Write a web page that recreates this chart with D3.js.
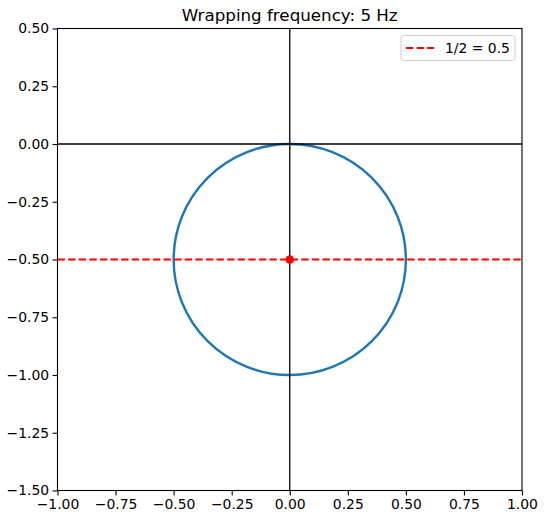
<!DOCTYPE html>
<html><head><meta charset="utf-8">
<script src="https://cdn.jsdelivr.net/npm/d3@7"></script>
<style>body{margin:0;background:#fff}svg{display:block}text{font-family:"DejaVu Sans",sans-serif}</style>
</head><body><svg id="c" width="544" height="522"></svg>
<script>
const titleText = "Wrapping frequency: 5 Hz";
const xTicks = [-1.00,-0.75,-0.50,-0.25,0.00,0.25,0.50,0.75,1.00];
const yTicks = [0.50,0.25,0.00,-0.25,-0.50,-0.75,-1.00,-1.25,-1.50];
const xDomain = [-1, 1];
const yDomain = [-1.5, 0.5];
const wrapCenter = [0, -0.5];
const wrapRadius = 0.5;
const halfLevel = 0.5;
const legendLabel = "1/2 = 0.5";

const svg = d3.select("#c");
const L = 57.5, R = 522, T = 28.5, B = 490.5;
const x = d3.scaleLinear().domain(xDomain).range([L, R]);
const y = d3.scaleLinear().domain(yDomain).range([B, T]);

const g = svg.append("g");
// circle (wrapped signal)
g.append("ellipse")
  .attr("cx", x(wrapCenter[0])).attr("cy", y(wrapCenter[1]))
  .attr("rx", x(wrapCenter[0] + wrapRadius) - x(wrapCenter[0]))
  .attr("ry", y(wrapCenter[1] - wrapRadius) - y(wrapCenter[1]))
  .attr("fill", "none").attr("stroke", "#1f77b4").attr("stroke-width", 2.4);
// axes lines
g.append("line").attr("x1", L).attr("x2", R).attr("y1", y(0)).attr("y2", y(0))
  .attr("stroke", "#000").attr("stroke-width", 1.3);
g.append("line").attr("x1", x(0)).attr("x2", x(0)).attr("y1", T).attr("y2", B)
  .attr("stroke", "#000").attr("stroke-width", 1.3);
// red dashed
g.append("line").attr("x1", L).attr("x2", R).attr("y1", y(-halfLevel)).attr("y2", y(-halfLevel))
  .attr("stroke", "red").attr("stroke-width", 2).attr("stroke-dasharray", "7.4,3.2");
g.append("circle").attr("cx", x(wrapCenter[0])).attr("cy", y(wrapCenter[1])).attr("r", 4.3).attr("fill", "red");

// axes
const fmt = d3.format(".2f");
const minus = s => s.replace("-", "\u2212");
const xa = svg.append("g").attr("transform", `translate(0,${B})`)
  .call(d3.axisBottom(x).tickValues(xTicks).tickSize(4.9).tickPadding(3.5).tickFormat(d => minus(fmt(d))));
const ya = svg.append("g").attr("transform", `translate(${L},0)`)
  .call(d3.axisLeft(y).tickValues(yTicks).tickSize(4.9).tickPadding(3.5).tickFormat(d => minus(fmt(d))));
[xa, ya].forEach(a => {
  a.select(".domain").remove();
  a.selectAll(".tick line").attr("stroke", "#000").attr("stroke-width", 1.1);
  a.selectAll("text").attr("font-size", 13.9).attr("fill", "#000").style("font-family", "DejaVu Sans");
});
// frame
svg.append("rect").attr("x", L).attr("y", T).attr("width", R - L).attr("height", B - T)
  .attr("fill", "none").attr("stroke", "#000").attr("stroke-width", 1.1);

// title
svg.append("text").attr("x", (L + R) / 2).attr("y", T - 8).attr("text-anchor", "middle")
  .attr("font-size", 16.7).text(titleText);

// legend
const lg = svg.append("g");
lg.append("rect").attr("x", 401).attr("y", 35.5).attr("width", 114).attr("height", 25).attr("rx", 3)
  .attr("fill", "#fff").attr("fill-opacity", 0.8).attr("stroke", "#ccc").attr("stroke-width", 1);
lg.append("line").attr("x1", 406).attr("x2", 434).attr("y1", 48).attr("y2", 48)
  .attr("stroke", "red").attr("stroke-width", 2).attr("stroke-dasharray", "7.4,3.2");
lg.append("text").attr("x", 445).attr("y", 53).attr("font-size", 13.9).text(legendLabel);
</script></body></html>
